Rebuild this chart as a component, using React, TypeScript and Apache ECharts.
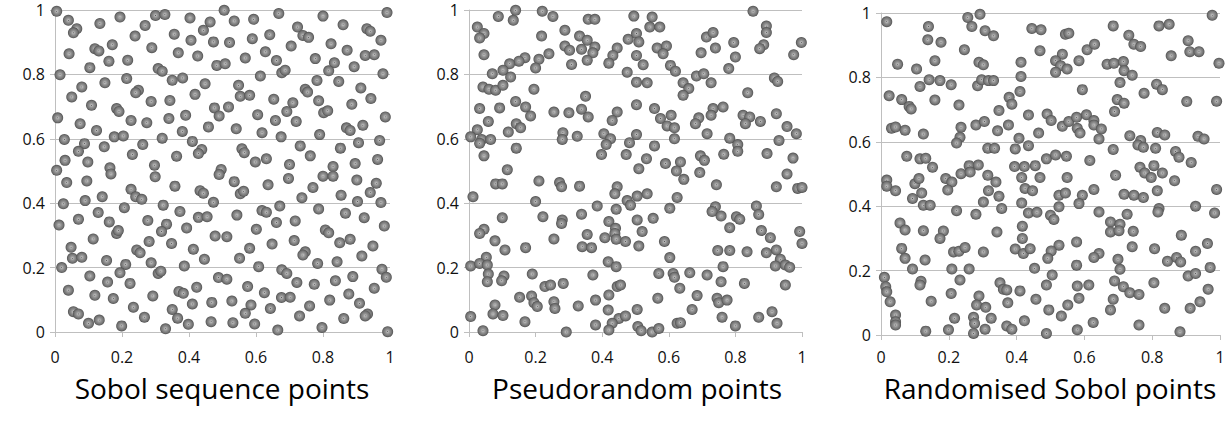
import React, { useEffect, useRef } from "react";
import * as echarts from "echarts";

const panelTitles = ["Sobol sequence points", "Pseudorandom points", "Randomised Sobol points"];

const sobolPoints: number[][] = [
  [0.005,0.996],[0.040,0.968],[0.065,0.942],[0.055,0.929],[0.134,0.958],[0.194,0.978],[0.300,0.983],[0.328,0.986],[0.403,0.975],[0.463,0.963],[0.269,0.952],[0.443,0.937],[0.239,0.919],[0.356,0.925],[0.406,0.906],[0.473,0.901],[0.119,0.880],[0.131,0.873],[0.171,0.892],[0.289,0.883],[0.042,0.864],[0.368,0.867],[0.426,0.857],[0.161,0.841],[0.217,0.844],[0.104,0.821],[0.483,0.828],[0.308,0.818],[0.320,0.810],[0.015,0.799],[0.350,0.782],[0.381,0.789],[0.214,0.787],[0.149,0.774],[0.080,0.761],[0.448,0.771],[0.249,0.751],[0.241,0.743],[0.050,0.730],[0.418,0.738],[0.287,0.716],[0.343,0.719],[0.109,0.704],[0.184,0.694],[0.191,0.685],[0.476,0.696],[0.490,0.671],[0.008,0.665],[0.075,0.647],[0.227,0.657],[0.274,0.650],[0.340,0.663],[0.390,0.673],[0.458,0.637],[0.124,0.626],[0.177,0.606],[0.204,0.609],[0.380,0.623],[0.320,0.602],[0.028,0.598],[0.088,0.585],[0.070,0.561],[0.147,0.575],[0.262,0.582],[0.410,0.592],[0.438,0.567],[0.428,0.554],[0.231,0.551],[0.363,0.546],[0.030,0.533],[0.098,0.528],[0.164,0.510],[0.297,0.518],[0.005,0.502],[0.496,0.505],
  [0.505,0.999],[0.535,0.966],[0.593,0.971],[0.668,0.989],[0.800,0.981],[0.991,0.992],[0.724,0.947],[0.860,0.954],[0.931,0.942],[0.941,0.934],[0.740,0.921],[0.757,0.915],[0.521,0.899],[0.589,0.911],[0.641,0.923],[0.973,0.906],[0.705,0.888],[0.824,0.895],[0.872,0.875],[0.628,0.870],[0.926,0.859],[0.953,0.861],[0.508,0.833],[0.568,0.851],[0.661,0.843],[0.777,0.849],[0.834,0.836],[0.893,0.824],[0.677,0.805],[0.687,0.813],[0.817,0.811],[0.613,0.795],[0.979,0.802],[0.782,0.781],[0.847,0.778],[0.548,0.766],[0.913,0.758],[0.553,0.732],[0.581,0.735],[0.747,0.754],[0.754,0.745],[0.653,0.723],[0.943,0.725],[0.787,0.718],[0.710,0.712],[0.518,0.699],[0.886,0.707],[0.692,0.685],[0.802,0.681],[0.814,0.687],[0.605,0.675],[0.658,0.657],[0.720,0.654],[0.986,0.668],[0.541,0.631],[0.618,0.619],[0.675,0.606],[0.790,0.613],[0.870,0.634],[0.881,0.626],[0.919,0.642],[0.969,0.595],[0.558,0.569],[0.565,0.557],[0.732,0.578],[0.852,0.571],[0.906,0.588],[0.598,0.528],[0.631,0.538],[0.762,0.547],[0.700,0.520],[0.830,0.514],[0.896,0.523],[0.963,0.536],
  [0.167,0.491],[0.299,0.482],[0.490,0.489],[0.035,0.464],[0.095,0.469],[0.227,0.443],[0.241,0.420],[0.259,0.412],[0.141,0.420],[0.358,0.453],[0.433,0.439],[0.443,0.431],[0.025,0.398],[0.090,0.408],[0.207,0.386],[0.323,0.394],[0.473,0.403],[0.129,0.371],[0.277,0.346],[0.373,0.374],[0.428,0.356],[0.454,0.358],[0.070,0.350],[0.162,0.342],[0.333,0.335],[0.318,0.312],[0.012,0.332],[0.184,0.306],[0.189,0.315],[0.393,0.323],[0.114,0.289],[0.281,0.281],[0.348,0.275],[0.478,0.298],[0.048,0.263],[0.244,0.255],[0.254,0.246],[0.413,0.257],[0.052,0.229],[0.080,0.232],[0.154,0.222],[0.287,0.215],[0.446,0.226],[0.020,0.200],[0.211,0.210],[0.194,0.184],[0.308,0.182],[0.316,0.189],[0.386,0.205],[0.104,0.174],[0.488,0.169],[0.157,0.155],[0.224,0.151],[0.040,0.130],[0.119,0.114],[0.174,0.104],[0.292,0.112],[0.370,0.126],[0.383,0.120],[0.423,0.139],[0.410,0.087],[0.468,0.092],[0.055,0.063],[0.070,0.056],[0.234,0.077],[0.350,0.070],[0.267,0.046],[0.366,0.043],[0.100,0.027],[0.132,0.037],[0.199,0.019],[0.330,0.010],[0.398,0.024],[0.466,0.032],
  [0.535,0.467],[0.636,0.457],[0.697,0.477],[0.800,0.484],[0.830,0.484],[0.901,0.472],[0.959,0.462],[0.553,0.429],[0.563,0.437],[0.770,0.449],[0.737,0.417],[0.854,0.425],[0.941,0.433],[0.903,0.405],[0.973,0.402],[0.671,0.391],[0.543,0.363],[0.618,0.377],[0.631,0.372],[0.787,0.382],[0.867,0.369],[0.923,0.355],[0.661,0.340],[0.717,0.345],[0.513,0.296],[0.601,0.319],[0.807,0.317],[0.817,0.308],[0.983,0.329],[0.714,0.284],[0.648,0.273],[0.850,0.277],[0.881,0.288],[0.581,0.260],[0.949,0.267],[0.551,0.229],[0.747,0.249],[0.740,0.239],[0.916,0.236],[0.784,0.213],[0.842,0.218],[0.608,0.203],[0.677,0.193],[0.692,0.182],[0.976,0.195],[0.989,0.170],[0.513,0.164],[0.722,0.154],[0.774,0.148],[0.837,0.159],[0.889,0.172],[0.575,0.141],[0.953,0.136],[0.625,0.122],[0.676,0.107],[0.702,0.108],[0.528,0.096],[0.585,0.084],[0.568,0.058],[0.643,0.073],[0.760,0.081],[0.820,0.099],[0.877,0.118],[0.909,0.089],[0.933,0.056],[0.926,0.050],[0.730,0.050],[0.862,0.042],[0.531,0.029],[0.596,0.025],[0.665,0.006],[0.797,0.014],[0.993,0.001]
];

const pseudoPoints: number[][] = [
  [0.140,0.999],[0.088,0.980],[0.133,0.968],[0.220,0.996],[0.252,0.980],[0.358,0.971],[0.378,0.971],[0.495,0.981],[0.025,0.947],[0.045,0.927],[0.032,0.913],[0.218,0.919],[0.288,0.937],[0.332,0.919],[0.355,0.906],[0.478,0.909],[0.045,0.861],[0.288,0.888],[0.302,0.875],[0.338,0.878],[0.378,0.885],[0.372,0.867],[0.445,0.882],[0.432,0.859],[0.420,0.835],[0.355,0.844],[0.308,0.831],[0.240,0.864],[0.210,0.847],[0.200,0.820],[0.168,0.852],[0.150,0.841],[0.122,0.833],[0.102,0.813],[0.070,0.802],[0.125,0.792],[0.475,0.807],[0.042,0.761],[0.060,0.754],[0.080,0.751],[0.102,0.766],[0.195,0.754],[0.350,0.732],[0.140,0.716],[0.170,0.699],[0.185,0.671],[0.032,0.694],[0.092,0.696],[0.255,0.683],[0.300,0.681],[0.338,0.692],[0.358,0.668],[0.445,0.683],[0.430,0.657],[0.058,0.654],[0.025,0.628],[0.005,0.606],[0.038,0.598],[0.032,0.586],[0.065,0.598],[0.118,0.621],[0.142,0.647],[0.155,0.634],[0.282,0.619],[0.280,0.598],[0.325,0.608],[0.405,0.616],[0.425,0.600],[0.412,0.582],[0.482,0.588],[0.142,0.571],[0.045,0.547],[0.398,0.551],[0.472,0.551],[0.115,0.504],
  [0.503,0.927],[0.510,0.901],[0.503,0.859],[0.523,0.830],[0.503,0.776],[0.535,0.774],[0.503,0.706],[0.503,0.613],[0.550,0.978],[0.543,0.947],[0.573,0.947],[0.565,0.882],[0.593,0.888],[0.583,0.864],[0.713,0.916],[0.733,0.930],[0.740,0.882],[0.697,0.867],[0.795,0.899],[0.800,0.854],[0.853,0.996],[0.893,0.950],[0.893,0.930],[0.885,0.892],[0.873,0.880],[0.998,0.899],[0.975,0.861],[0.605,0.828],[0.620,0.810],[0.780,0.818],[0.683,0.795],[0.705,0.802],[0.727,0.774],[0.643,0.774],[0.660,0.756],[0.643,0.735],[0.917,0.789],[0.927,0.778],[0.837,0.743],[0.557,0.694],[0.575,0.663],[0.607,0.673],[0.595,0.640],[0.617,0.634],[0.690,0.665],[0.680,0.647],[0.733,0.694],[0.763,0.699],[0.727,0.673],[0.823,0.673],[0.843,0.668],[0.830,0.647],[0.875,0.654],[0.923,0.678],[0.955,0.638],[0.983,0.616],[0.715,0.616],[0.617,0.600],[0.783,0.602],[0.807,0.582],[0.807,0.561],[0.557,0.578],[0.931,0.595],[0.533,0.538],[0.590,0.523],[0.635,0.528],[0.695,0.547],[0.707,0.533],[0.765,0.552],[0.895,0.554],[0.973,0.540],
  [0.080,0.460],[0.100,0.460],[0.210,0.469],[0.272,0.464],[0.278,0.451],[0.332,0.453],[0.445,0.451],[0.438,0.429],[0.012,0.420],[0.200,0.405],[0.385,0.391],[0.442,0.381],[0.475,0.408],[0.485,0.394],[0.100,0.355],[0.222,0.358],[0.280,0.348],[0.278,0.337],[0.338,0.366],[0.420,0.343],[0.045,0.319],[0.032,0.306],[0.078,0.283],[0.108,0.255],[0.170,0.262],[0.255,0.289],[0.355,0.303],[0.408,0.293],[0.440,0.322],[0.438,0.306],[0.442,0.288],[0.470,0.281],[0.340,0.265],[0.368,0.262],[0.052,0.232],[0.005,0.205],[0.032,0.213],[0.055,0.208],[0.418,0.218],[0.442,0.203],[0.058,0.180],[0.055,0.156],[0.105,0.174],[0.098,0.159],[0.190,0.180],[0.372,0.177],[0.228,0.141],[0.245,0.146],[0.283,0.151],[0.445,0.141],[0.455,0.146],[0.152,0.108],[0.188,0.112],[0.195,0.091],[0.205,0.079],[0.255,0.094],[0.258,0.073],[0.328,0.081],[0.380,0.099],[0.420,0.115],[0.078,0.084],[0.072,0.056],[0.102,0.051],[0.005,0.048],[0.418,0.068],[0.450,0.042],[0.470,0.050],[0.168,0.032],[0.042,0.004],[0.292,0.000],[0.380,0.022],[0.430,0.027],[0.420,0.006],
  [0.510,0.507],[0.623,0.500],[0.693,0.495],[0.645,0.474],[0.955,0.491],[0.743,0.457],[0.923,0.451],[0.987,0.446],[1.000,0.449],[0.505,0.422],[0.535,0.429],[0.625,0.418],[0.603,0.384],[0.740,0.389],[0.730,0.374],[0.757,0.360],[0.863,0.391],[0.870,0.365],[0.803,0.358],[0.813,0.350],[0.505,0.348],[0.553,0.353],[0.783,0.324],[0.520,0.312],[0.878,0.315],[0.905,0.293],[0.993,0.312],[1.000,0.275],[0.510,0.267],[0.587,0.281],[0.603,0.231],[0.747,0.253],[0.783,0.253],[0.835,0.249],[0.893,0.246],[0.923,0.255],[0.935,0.226],[0.920,0.205],[0.950,0.208],[0.963,0.201],[0.763,0.203],[0.570,0.182],[0.613,0.182],[0.617,0.170],[0.663,0.184],[0.715,0.177],[0.757,0.156],[0.827,0.151],[0.950,0.146],[0.633,0.136],[0.685,0.113],[0.567,0.105],[0.745,0.105],[0.750,0.091],[0.775,0.099],[0.505,0.070],[0.670,0.070],[0.760,0.046],[0.870,0.046],[0.910,0.063],[0.925,0.027],[0.625,0.027],[0.635,0.029],[0.800,0.019],[0.507,0.017],[0.517,0.004],[0.550,0.000],[0.570,0.011]
];

const randomisedPoints: number[][] = [
  [0.017,0.973],[0.140,0.958],[0.256,0.986],[0.292,0.996],[0.268,0.958],[0.307,0.945],[0.332,0.929],[0.445,0.952],[0.472,0.948],[0.138,0.917],[0.177,0.909],[0.246,0.886],[0.469,0.883],[0.049,0.841],[0.105,0.826],[0.159,0.852],[0.289,0.847],[0.302,0.839],[0.413,0.847],[0.142,0.793],[0.174,0.790],[0.207,0.777],[0.115,0.772],[0.285,0.774],[0.297,0.793],[0.317,0.790],[0.332,0.790],[0.413,0.803],[0.024,0.743],[0.061,0.731],[0.083,0.710],[0.089,0.702],[0.159,0.730],[0.230,0.714],[0.410,0.756],[0.378,0.738],[0.386,0.717],[0.348,0.697],[0.435,0.683],[0.031,0.642],[0.043,0.646],[0.071,0.636],[0.125,0.624],[0.236,0.645],[0.233,0.614],[0.223,0.596],[0.280,0.652],[0.305,0.663],[0.344,0.634],[0.376,0.652],[0.407,0.611],[0.435,0.588],[0.465,0.627],[0.315,0.580],[0.335,0.580],[0.396,0.578],[0.076,0.555],[0.115,0.547],[0.132,0.549],[0.152,0.521],[0.260,0.526],[0.287,0.528],[0.394,0.523],[0.423,0.523],[0.455,0.526],
  [0.544,0.934],[0.554,0.937],[0.685,0.960],[0.820,0.960],[0.850,0.965],[0.977,0.993],[0.731,0.931],[0.746,0.903],[0.766,0.896],[0.906,0.914],[0.911,0.880],[0.938,0.880],[0.608,0.886],[0.630,0.903],[0.535,0.872],[0.515,0.852],[0.530,0.836],[0.549,0.826],[0.515,0.816],[0.584,0.852],[0.667,0.841],[0.687,0.844],[0.715,0.849],[0.717,0.821],[0.741,0.807],[0.856,0.867],[0.997,0.844],[0.705,0.784],[0.813,0.779],[0.830,0.762],[0.776,0.751],[0.594,0.762],[0.697,0.731],[0.717,0.720],[0.689,0.694],[0.902,0.725],[0.990,0.726],[0.490,0.686],[0.502,0.666],[0.535,0.648],[0.554,0.663],[0.577,0.676],[0.606,0.684],[0.628,0.666],[0.628,0.652],[0.650,0.640],[0.579,0.642],[0.587,0.627],[0.643,0.609],[0.734,0.619],[0.766,0.604],[0.758,0.590],[0.774,0.583],[0.815,0.629],[0.837,0.621],[0.810,0.580],[0.685,0.576],[0.869,0.570],[0.879,0.552],[0.915,0.536],[0.935,0.617],[0.953,0.609],[0.488,0.547],[0.515,0.559],[0.547,0.555],[0.616,0.542],[0.764,0.521],[0.805,0.526],
  [0.236,0.501],[0.263,0.506],[0.315,0.496],[0.339,0.475],[0.469,0.489],[0.017,0.481],[0.017,0.462],[0.043,0.448],[0.100,0.470],[0.112,0.486],[0.120,0.441],[0.093,0.424],[0.191,0.486],[0.209,0.475],[0.197,0.450],[0.317,0.448],[0.348,0.431],[0.415,0.489],[0.425,0.455],[0.447,0.448],[0.302,0.413],[0.125,0.403],[0.145,0.403],[0.223,0.386],[0.280,0.375],[0.356,0.393],[0.415,0.410],[0.435,0.379],[0.460,0.381],[0.056,0.348],[0.071,0.326],[0.125,0.324],[0.184,0.323],[0.174,0.300],[0.342,0.320],[0.417,0.338],[0.417,0.300],[0.061,0.269],[0.071,0.238],[0.130,0.233],[0.214,0.258],[0.230,0.260],[0.248,0.272],[0.302,0.258],[0.396,0.267],[0.420,0.253],[0.440,0.268],[0.093,0.205],[0.209,0.205],[0.260,0.205],[0.453,0.207],[0.010,0.179],[0.014,0.150],[0.017,0.134],[0.118,0.167],[0.115,0.155],[0.233,0.171],[0.027,0.103],[0.148,0.105],[0.207,0.129],[0.351,0.162],[0.361,0.142],[0.371,0.140],[0.410,0.137],[0.289,0.121],[0.282,0.093],[0.309,0.086],[0.374,0.100],[0.457,0.111],[0.043,0.062],[0.043,0.041],[0.043,0.031],[0.217,0.052],[0.273,0.055],[0.276,0.036],[0.273,0.005],[0.325,0.052],[0.423,0.044],[0.132,0.012],[0.199,0.016],[0.307,0.018],[0.371,0.028],[0.386,0.018],
  [0.549,0.489],[0.692,0.496],[0.778,0.503],[0.797,0.489],[0.830,0.503],[0.866,0.479],[0.990,0.452],[0.525,0.434],[0.544,0.441],[0.594,0.434],[0.628,0.452],[0.584,0.408],[0.717,0.437],[0.746,0.434],[0.774,0.427],[0.815,0.448],[0.525,0.398],[0.500,0.372],[0.510,0.359],[0.643,0.382],[0.726,0.375],[0.820,0.393],[0.817,0.382],[0.928,0.400],[0.984,0.379],[0.677,0.351],[0.705,0.344],[0.677,0.320],[0.702,0.324],[0.744,0.322],[0.886,0.310],[0.577,0.289],[0.525,0.279],[0.502,0.261],[0.492,0.238],[0.643,0.253],[0.628,0.241],[0.699,0.235],[0.741,0.274],[0.807,0.268],[0.928,0.260],[0.963,0.284],[0.845,0.229],[0.872,0.241],[0.884,0.227],[0.577,0.217],[0.705,0.204],[0.505,0.186],[0.906,0.183],[0.928,0.191],[0.971,0.210],[0.488,0.155],[0.579,0.152],[0.613,0.155],[0.689,0.168],[0.715,0.150],[0.734,0.131],[0.761,0.126],[0.805,0.162],[0.965,0.142],[0.584,0.114],[0.685,0.111],[0.551,0.093],[0.495,0.078],[0.532,0.059],[0.677,0.078],[0.837,0.083],[0.912,0.083],[0.941,0.103],[0.626,0.039],[0.761,0.031],[0.579,0.016],[0.488,0.005],[0.882,0.010]
];

const panelData = [sobolPoints, pseudoPoints, randomisedPoints];

// layout of the three plot areas (pixels)
const grids = [
  { left: 55, top: 10, width: 335, height: 322 },
  { left: 469, top: 10, width: 333, height: 322 },
  { left: 881, top: 13, width: 339, height: 322 },
];
const labelMargins = [17, 17, 14];
const titleCenters = [222, 637, 1050];

const FONT = "'Open Sans', 'Liberation Sans', sans-serif";

export default function App() {
  const ref = useRef<HTMLDivElement>(null);
  useEffect(() => {
    if (!ref.current) return;
    const chart = echarts.init(ref.current, null, { renderer: "svg" });
    const sphere = new echarts.graphic.RadialGradient(0.5, 0.5, 0.5, [
      { offset: 0, color: "#555555" },
      { offset: 0.14, color: "#b5b5b5" },
      { offset: 0.4, color: "#939393" },
      { offset: 0.78, color: "#727272" },
      { offset: 1, color: "#505050" },
    ]);
    const axisColor = "#bfbfbf";
    const option: any = {
      animation: false,
      backgroundColor: "#ffffff",
      title: panelTitles.map((t, i) => ({
        text: t,
        left: titleCenters[i],
        top: 374,
        padding: 0,
        textAlign: "center",
        textStyle: { fontFamily: FONT, fontSize: 28, fontWeight: "normal", color: "#000", lineHeight: 28 },
      })),
      grid: grids.map((g) => ({ ...g, containLabel: false })),
      xAxis: grids.map((_, i) => ({
        type: "value",
        gridIndex: i,
        min: 0,
        max: 1,
        interval: 0.2,
        axisLine: { show: true, lineStyle: { color: axisColor, width: 1 } },
        axisTick: { show: true, length: 5, lineStyle: { color: axisColor } },
        splitLine: { show: false },
        axisLabel: { margin: labelMargins[i], fontFamily: FONT, fontSize: 16, color: "#111", lineHeight: 16 },
      })),
      yAxis: grids.map((_, i) => ({
        type: "value",
        gridIndex: i,
        min: 0,
        max: 1,
        interval: 0.2,
        axisLine: { show: true, lineStyle: { color: axisColor, width: 1 } },
        axisTick: { show: true, length: 5, lineStyle: { color: axisColor } },
        splitLine: { show: true, lineStyle: { color: axisColor, width: 1 } },
        axisLabel: { margin: 10, fontFamily: FONT, fontSize: 16, color: "#111" },
      })),
      series: panelData.map((d, i) => ({
        type: "scatter",
        xAxisIndex: i,
        yAxisIndex: i,
        data: d,
        symbol: "circle",
        symbolSize: 11,
        clip: false,
        itemStyle: { color: sphere, opacity: 1 },
      })),
    };
    chart.setOption(option);
    return () => chart.dispose();
  }, []);
  return (
    <div
      ref={ref}
      style={{ position: "absolute", left: 0, top: 0, width: 1231, height: 421 }}
    />
  );
}
